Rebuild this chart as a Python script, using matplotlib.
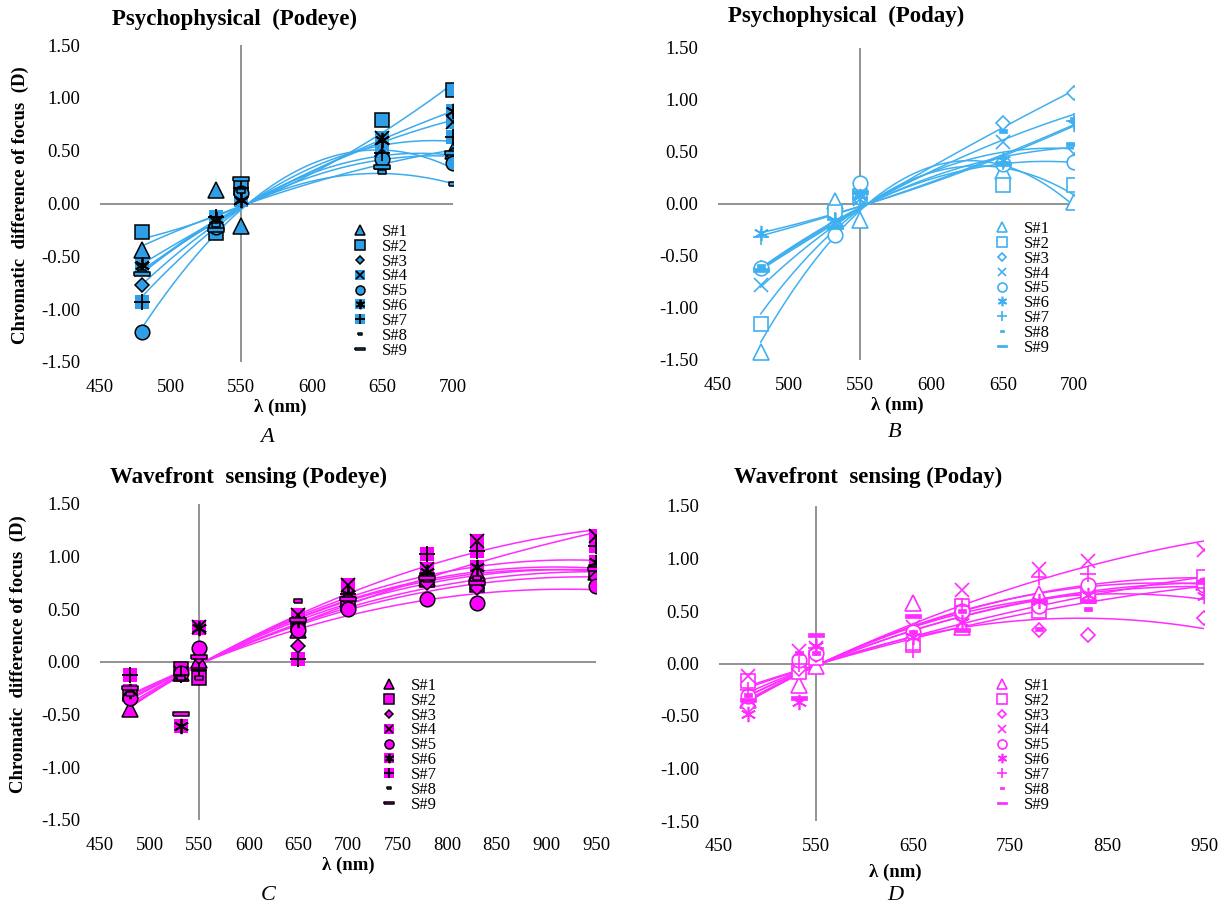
import numpy as np
import matplotlib.pyplot as plt
from matplotlib.lines import Line2D

plt.rcParams['font.family'] = ['Liberation Serif', 'DejaVu Serif']

# ---- data ----
subjects = ['S#1', 'S#2', 'S#3', 'S#4', 'S#5', 'S#6', 'S#7', 'S#8', 'S#9']

wl_psy = [480, 532, 550, 650, 700]
wl_wfs = [480, 532, 550, 650, 700, 780, 830, 950]

# psychophysical, Podeye (A)
psy_podeye = [
    [-0.44, 0.13, -0.21, 0.40, 0.50],
    [-0.27, -0.28, 0.16, 0.79, 1.07],
    [-0.77, -0.20, 0.08, 0.45, 0.46],
    [-0.62, -0.18, 0.05, 0.62, 0.77],
    [-1.22, -0.22, 0.10, 0.42, 0.38],
    [-0.58, -0.15, 0.03, 0.60, 0.88],
    [-0.93, -0.13, 0.15, 0.48, 0.63],
    [-0.65, -0.20, 0.12, 0.30, 0.18],
    [-0.67, -0.25, 0.23, 0.35, 0.48],
]
# psychophysical, Poday (B)
psy_poday = [
    [-1.42, 0.03, -0.15, 0.32, 0.02],
    [-1.15, -0.08, 0.08, 0.18, 0.18],
    [-0.62, -0.20, 0.05, 0.78, 1.07],
    [-0.78, -0.18, 0.05, 0.60, 0.48],
    [-0.62, -0.30, 0.20, 0.38, 0.40],
    [-0.28, -0.15, 0.08, 0.42, 0.77],
    [-0.32, -0.15, 0.06, 0.40, 0.80],
    [-0.60, -0.20, 0.10, 0.70, 0.82],
    [-0.63, -0.22, 0.12, 0.38, 0.58],
]
# wavefront sensing, Podeye (C)
wfs_podeye = [
    [-0.45, -0.10, 0.02, 0.30, 0.60, 0.80, 0.85, 0.85],
    [-0.30, -0.07, -0.15, 0.35, 0.55, 0.78, 0.73, 0.85],
    [-0.35, -0.12, 0.05, 0.15, 0.60, 0.75, 0.70, 0.80],
    [-0.30, -0.10, 0.33, 0.45, 0.73, 0.88, 1.15, 1.20],
    [-0.34, -0.10, 0.13, 0.30, 0.50, 0.60, 0.56, 0.72],
    [-0.28, -0.61, 0.32, 0.40, 0.65, 0.85, 0.90, 0.95],
    [-0.12, -0.12, -0.08, 0.03, 0.65, 1.03, 1.05, 1.10],
    [-0.30, -0.15, -0.15, 0.58, 0.62, 0.78, 0.80, 0.90],
    [-0.25, -0.49, 0.05, 0.40, 0.60, 0.80, 0.75, 0.88],
]
# wavefront sensing, Poday (D)
wfs_poday = [
    [-0.35, -0.20, -0.02, 0.58, 0.35, 0.66, 0.70, 0.78],
    [-0.17, -0.08, 0.05, 0.18, 0.55, 0.50, 0.64, 0.82],
    [-0.40, -0.05, 0.08, 0.30, 0.45, 0.32, 0.27, 0.43],
    [-0.12, 0.12, 0.15, 0.35, 0.70, 0.90, 0.98, 1.08],
    [-0.31, 0.03, 0.10, 0.30, 0.50, 0.55, 0.75, 0.75],
    [-0.48, -0.37, 0.17, 0.25, 0.40, 0.60, 0.65, 0.64],
    [-0.25, 0.00, 0.15, 0.13, 0.55, 0.82, 0.85, 0.72],
    [-0.30, 0.10, 0.10, 0.30, 0.50, 0.33, 0.52, 0.80],
    [-0.35, -0.33, 0.27, 0.45, 0.32, 0.60, 0.60, 0.78],
]

# ---- styling ----
BLUE = '#2e9ee6'
BLUE_LINE = '#3cabee'
BLUE_OPEN = '#3fb0ef'
MAG = '#ff00ff'
MAG_LINE = '#ff2cff'
GRAY = '#8a8a8a'

short_dash = [(-1, -0.55), (1, -0.55), (1, 0.55), (-1, 0.55), (-1, -0.55)]
long_dash = [(-1, -0.3), (1, -0.3), (1, 0.3), (-1, 0.3), (-1, -0.3)]
asterisk = (6, 2, 0)

# (marker, size, background square?)
MARKERS = [
    ('^', 11, False),
    ('s', 10.5, False),
    ('D', 7, False),
    ('x', 10, True),
    ('o', 10.5, False),
    (asterisk, 11, True),
    ('+', 11, True),
    (short_dash, 5.5, False),
    (long_dash, 11.5, False),
]
LINE_MARKERS = ('x', '+', asterisk)


def marker_kw(i, filled, color):
    m, ms, bg = MARKERS[i]
    if filled:
        if m in LINE_MARKERS:
            return dict(marker=m, ms=ms, mec='black', mew=1.3, ls='none')
        return dict(marker=m, ms=ms, mfc=color, mec='black', mew=1.1, ls='none')
    if m in LINE_MARKERS:
        return dict(marker=m, ms=ms, mec=color, mew=1.2, ls='none')
    if i >= 7:
        return dict(marker=m, ms=ms, mfc=color, mec=color, mew=0.5, ls='none')
    return dict(marker=m, ms=ms, mfc='white', mec=color, mew=1.2, ls='none')


def fit_curve(x, y, x0=555.0):
    # quadratic trend forced through zero focus at 555 nm
    dx = np.asarray(x, float) - x0
    A = np.column_stack([dx, dx ** 2])
    c = np.linalg.lstsq(A, np.asarray(y, float), rcond=None)[0]
    xs = np.linspace(min(x), max(x), 200)
    d = xs - x0
    return xs, c[0] * d + c[1] * d ** 2


def draw_panel(rect, x, data, filled, color, line_color, xmax, xstep, leg_pos):
    W, H = 1229.0, 909.0
    l, t, r, b = rect
    ax = fig.add_axes([l / W, 1 - b / H, (r - l) / W, (b - t) / H])
    ax.set_xlim(450, xmax)
    ax.set_ylim(-1.5, 1.5)
    for s in ax.spines.values():
        s.set_visible(False)
    ax.axvline(550, color=GRAY, lw=1.3, zorder=1)
    ax.axhline(0, color=GRAY, lw=1.3, zorder=1)
    ax.set_xticks(np.arange(450, xmax + 1, xstep))
    ax.set_yticks(np.arange(-1.5, 1.51, 0.5))
    ax.set_yticklabels(['%.2f' % v for v in np.arange(-1.5, 1.51, 0.5)])
    ax.tick_params(length=0, labelsize=13.5, pad=12)
    ax.tick_params(axis='y', pad=14)

    for i, y in enumerate(data):
        xs, ys = fit_curve(x, y)
        ax.plot(xs, ys, color=line_color, lw=1.1, zorder=2)
    handles = []
    for i, y in enumerate(data):
        m, ms, bg = MARKERS[i]
        parts = []
        if filled and bg:
            ax.plot(x, y, marker='s', ms=10.5, mfc=color, mec=color, mew=0, ls='none', zorder=3)
            parts.append(Line2D([], [], marker='s', ms=10.5, mfc=color, mec=color, mew=0, ls='none'))
        kw = marker_kw(i, filled, color)
        ax.plot(x, y, zorder=4, **kw)
        parts.append(Line2D([], [], **kw))
        handles.append(tuple(parts) if len(parts) > 1 else parts[0])

    lx, ly = leg_pos
    ax.legend(handles, subjects, loc='upper left',
              bbox_to_anchor=(lx / W, 1 - ly / H), bbox_transform=fig.transFigure,
              frameon=False, fontsize=12, markerscale=0.62, handlelength=1.0,
              handletextpad=0.8, labelspacing=-0.07, borderpad=0, borderaxespad=0)
    return ax


fig = plt.figure(figsize=(12.29, 9.09), dpi=100)

draw_panel((100, 45, 453, 362), wl_psy, psy_podeye, True, BLUE, BLUE_LINE, 700, 50, (352, 224))
draw_panel((718, 48, 1074, 360), wl_psy, psy_poday, False, BLUE_OPEN, BLUE_OPEN, 700, 50, (994, 221))
draw_panel((100, 504, 596, 820), wl_wfs, wfs_podeye, True, MAG, MAG_LINE, 950, 50, (381, 678))
draw_panel((719, 506, 1204, 821), wl_wfs, wfs_poday, False, MAG_LINE, MAG_LINE, 950, 100, (994, 678))

title_kw = dict(fontsize=16.5, fontweight='bold', ha='center', va='center')
fig.text(234 / 1229, 1 - 19 / 909, 'Psychophysical  (Podeye)', **title_kw)
fig.text(846 / 1229, 1 - 16 / 909, 'Psychophysical  (Poday)', **title_kw)
fig.text(248 / 1229, 1 - 477 / 909, 'Wavefront  sensing (Podeye)', **title_kw)
fig.text(868 / 1229, 1 - 477 / 909, 'Wavefront  sensing (Poday)', **title_kw)

ylab = 'Chromatic  difference of focus  (D)'
fig.text(20 / 1229, 1 - 205 / 909, ylab, rotation=90, fontsize=13.5, fontweight='bold', ha='center', va='center')
fig.text(18 / 1229, 1 - 654 / 909, ylab, rotation=90, fontsize=13.5, fontweight='bold', ha='center', va='center')

for px, py in [(280, 407), (897, 405), (348, 865), (895, 872)]:
    fig.text(px / 1229, 1 - py / 909, 'λ (nm)', fontsize=13.5, fontweight='bold', ha='center', va='center')

for lab, px, py in [('A', 267, 437), ('B', 895, 433), ('C', 268, 895), ('D', 895, 895)]:
    fig.text(px / 1229, 1 - py / 909, lab, fontsize=16, style='italic', ha='center', va='center')

fig.savefig('out.png', dpi=100)
